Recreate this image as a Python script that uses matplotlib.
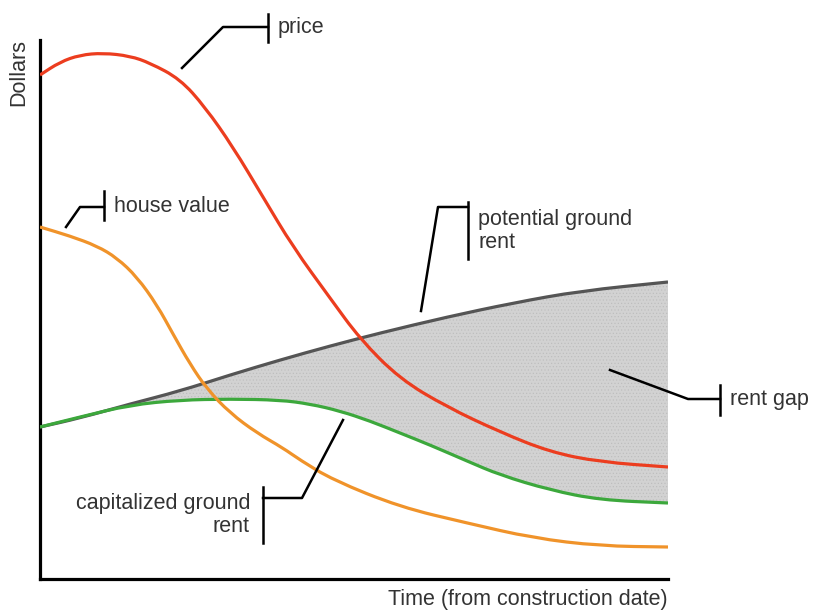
import matplotlib.pyplot as plt
import numpy as np
from matplotlib.path import Path
from matplotlib.patches import PathPatch

plt.rcParams['font.family'] = ['Liberation Sans', 'DejaVu Sans']
plt.rcParams['hatch.linewidth'] = 0.4

# curves (time and dollars in arbitrary units)
price_t = [0, 20, 40, 63, 90, 110, 140, 165, 193, 223, 253, 290, 320, 360, 407, 460, 510, 560, 628]
price_d = [504, 517, 524, 526, 523, 516, 500, 472, 432, 382, 332, 281, 240, 200, 172, 147, 127, 117, 112]

house_t = [0, 30, 57, 77, 97, 117, 133, 150, 167, 190, 217, 243, 260, 293, 360, 427, 493, 560, 628]
house_d = [352, 343, 333, 321, 302, 274, 245, 215, 190, 166, 146, 131, 119, 99, 72, 56, 41, 33, 32]

potential_t = [0, 40, 90, 140, 190, 240, 290, 340, 407, 473, 540, 628]
potential_d = [152, 161, 175, 188, 204, 219, 233, 246, 262, 276, 288, 297]

capital_t = [0, 40, 90, 140, 190, 240, 270, 300, 330, 360, 390, 427, 460, 510, 560, 628]
capital_d = [152, 162, 174, 179, 180, 179, 175, 168, 158, 146, 134, 118, 104, 89, 79, 76]


def smooth_path(xs, ys):
    # quadratic bezier through the midpoints, so the line bends softly
    pts = np.column_stack([xs, ys]).astype(float)
    verts = [pts[0], (pts[0] + pts[1]) / 2]
    codes = [Path.MOVETO, Path.LINETO]
    for i in range(1, len(pts) - 1):
        verts += [pts[i], (pts[i] + pts[i + 1]) / 2]
        codes += [Path.CURVE3, Path.CURVE3]
    verts.append(pts[-1])
    codes.append(Path.LINETO)
    return np.array(verts), codes


fig = plt.figure(figsize=(8.15, 6.12), dpi=100)
ax = fig.add_axes([40 / 815, 33 / 612, 628 / 815, 539 / 612])
ax.set_xlim(0, 628)
ax.set_ylim(0, 539)

# rent gap area between potential and capitalized ground rent
v1, c1 = smooth_path(potential_t, potential_d)
v2, c2 = smooth_path(capital_t[::-1], capital_d[::-1])
c2 = [Path.LINETO] + c2[1:]
gap = Path(np.vstack([v1, v2, v1[:1]]), c1 + c2 + [Path.CLOSEPOLY])
ax.add_patch(PathPatch(gap, facecolor='#d2d2d2', edgecolor='#bcbcbc', hatch='.....',
                       linewidth=0, zorder=1))

lw = 2.3
for xs, ys, col, z in [(potential_t, potential_d, '#555555', 3),
                       (capital_t, capital_d, '#3ca83c', 3),
                       (house_t, house_d, '#f0932a', 4),
                       (price_t, price_d, '#ec3d1f', 5)]:
    v, c = smooth_path(xs, ys)
    ax.add_patch(PathPatch(Path(v, c), facecolor='none', edgecolor=col, lw=lw,
                           capstyle='butt', zorder=z))

for s in ['top', 'right']:
    ax.spines[s].set_visible(False)
for s in ['left', 'bottom']:
    ax.spines[s].set_linewidth(2.3)
ax.set_xticks([])
ax.set_yticks([])

txt = dict(fontsize=15.5, color='#333333', clip_on=False)


def callout(xs, ys, bar_x, bar_y0, bar_y1):
    ax.plot(xs, ys, color='black', lw=1.8, clip_on=False, zorder=6)
    ax.plot([bar_x, bar_x], [bar_y0, bar_y1], color='black', lw=1.8, clip_on=False, zorder=6)


callout([142, 183, 228], [511, 552, 552], 228, 565, 537)
ax.text(238, 551, 'price', ha='left', va='center', **txt)

callout([26, 40, 64], [352, 372, 372], 64, 388, 359)
ax.text(74, 372, 'house value', ha='left', va='center', **txt)

callout([381, 398, 428], [268, 372, 372], 428, 377, 320)
ax.text(438, 348, 'potential ground\nrent', ha='left', va='center', linespacing=1.1, **txt)

callout([570, 648, 680], [209, 180, 180], 680, 194, 164)
ax.text(690, 180, 'rent gap', ha='left', va='center', **txt)

callout([303, 262, 223], [159, 81, 81], 223, 92, 36)
ax.text(210, 64, 'capitalized ground\nrent', ha='right', va='center', multialignment='right',
        linespacing=1.1, **txt)

ax.text(-21, 506, 'Dollars', rotation=90, ha='center', va='center', **txt)
ax.text(628, -21, 'Time (from construction date)', ha='right', va='center', **txt)

plt.savefig('out.png', dpi=100)
